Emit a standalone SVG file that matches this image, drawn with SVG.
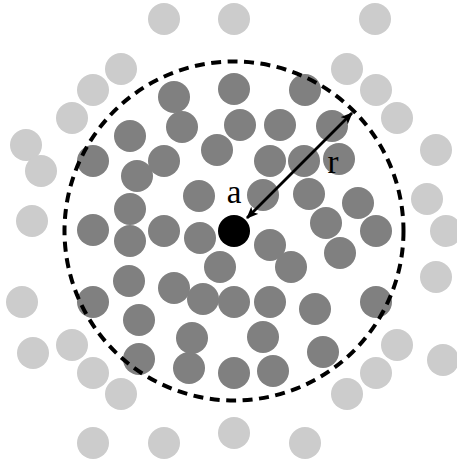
<svg xmlns="http://www.w3.org/2000/svg" width="457" height="463" viewBox="0 0 457 463">
<style>
.l{fill:#cccccc}
.d{fill:#808080}
.lbl{font-family:"Liberation Serif","DejaVu Serif",serif;font-size:33px;fill:#000}
</style>
<defs>
<marker id="ah" viewBox="0 0 12 10" refX="11" refY="5" markerWidth="12" markerHeight="10" markerUnits="userSpaceOnUse" orient="auto-start-reverse">
<path d="M0,0 L12,5 L0,10 L3,5 Z" fill="#000"/>
</marker>
</defs>
<rect width="457" height="463" fill="#fff"/>
<g id="outer">
<circle class="l" cx="164" cy="19" r="16"/><circle class="l" cx="234" cy="19" r="16"/><circle class="l" cx="375" cy="19" r="16"/>
<circle class="l" cx="121" cy="69" r="16"/><circle class="l" cx="347" cy="69" r="16"/>
<circle class="l" cx="93" cy="90" r="16"/><circle class="l" cx="376" cy="90" r="16"/>
<circle class="l" cx="72" cy="118" r="16"/><circle class="l" cx="397" cy="118" r="16"/>
<circle class="l" cx="26" cy="145" r="16"/><circle class="l" cx="436" cy="150" r="16"/>
<circle class="l" cx="41" cy="171" r="16"/><circle class="l" cx="427" cy="199" r="16"/>
<circle class="l" cx="32" cy="221" r="16"/><circle class="l" cx="446" cy="231" r="16"/>
<circle class="l" cx="436" cy="277" r="16"/><circle class="l" cx="22" cy="302" r="16"/>
<circle class="l" cx="72" cy="345" r="16"/><circle class="l" cx="397" cy="345" r="16"/>
<circle class="l" cx="33" cy="353" r="16"/><circle class="l" cx="443" cy="360" r="16"/>
<circle class="l" cx="93" cy="373" r="16"/><circle class="l" cx="376" cy="373" r="16"/>
<circle class="l" cx="121" cy="394" r="16"/><circle class="l" cx="347" cy="394" r="16"/>
<circle class="l" cx="234" cy="433" r="16"/>
<circle class="l" cx="93" cy="443" r="16"/><circle class="l" cx="164" cy="443" r="16"/><circle class="l" cx="305" cy="443" r="16"/>
</g>
<g id="inner">
<circle class="d" cx="174" cy="97" r="16"/><circle class="d" cx="234" cy="89" r="16"/><circle class="d" cx="305" cy="90" r="16"/>
<circle class="d" cx="182" cy="127" r="16"/><circle class="d" cx="240" cy="125" r="16"/><circle class="d" cx="280" cy="125" r="16"/><circle class="d" cx="332" cy="126" r="16"/>
<circle class="d" cx="130" cy="136" r="16"/><circle class="d" cx="217" cy="150" r="16"/>
<circle class="d" cx="93" cy="161" r="16"/><circle class="d" cx="164" cy="161" r="16"/><circle class="d" cx="270" cy="161" r="16"/><circle class="d" cx="304" cy="161" r="16"/><circle class="d" cx="339" cy="159" r="16"/>
<circle class="d" cx="137" cy="176" r="16"/>
<circle class="d" cx="199" cy="196" r="16"/><circle class="d" cx="263" cy="195" r="16"/><circle class="d" cx="309" cy="194" r="16"/><circle class="d" cx="130" cy="209" r="16"/><circle class="d" cx="358" cy="203" r="16"/>
<circle class="d" cx="93" cy="230" r="16"/><circle class="d" cx="130" cy="241" r="16"/><circle class="d" cx="164" cy="231" r="16"/><circle class="d" cx="200" cy="238" r="16"/><circle class="d" cx="326" cy="223" r="16"/><circle class="d" cx="376" cy="231" r="16"/>
<circle class="d" cx="270" cy="245" r="16"/><circle class="d" cx="340" cy="253" r="16"/>
<circle class="d" cx="220" cy="267" r="16"/><circle class="d" cx="291" cy="267" r="16"/>
<circle class="d" cx="129" cy="281" r="16"/><circle class="d" cx="174" cy="288" r="16"/><circle class="d" cx="203" cy="299" r="16"/><circle class="d" cx="234" cy="302" r="16"/><circle class="d" cx="270" cy="302" r="16"/><circle class="d" cx="93" cy="302" r="16"/><circle class="d" cx="315" cy="309" r="16"/><circle class="d" cx="376" cy="302" r="16"/>
<circle class="d" cx="139" cy="320" r="16"/><circle class="d" cx="192" cy="338" r="16"/><circle class="d" cx="263" cy="337" r="16"/>
<circle class="d" cx="139" cy="359" r="16"/><circle class="d" cx="189" cy="368" r="16"/><circle class="d" cx="234" cy="373" r="16"/><circle class="d" cx="273" cy="371" r="16"/><circle class="d" cx="323" cy="352" r="16"/>
</g>
<g id="boundary">
<circle cx="234" cy="231" r="169.5" fill="none" stroke="#000" stroke-width="4" stroke-dasharray="10 6.5"/>
</g>
<g id="a">
<circle cx="234" cy="231" r="16" fill="#000"/>
<text class="lbl" x="234" y="203" text-anchor="middle">a</text>
</g>
<g id="connectors">
<line x1="247" y1="218" x2="352" y2="113" stroke="#000" stroke-width="2.8" marker-start="url(#ah)" marker-end="url(#ah)"/>
<text class="lbl" x="333" y="173" text-anchor="middle">r</text>
</g>
</svg>
